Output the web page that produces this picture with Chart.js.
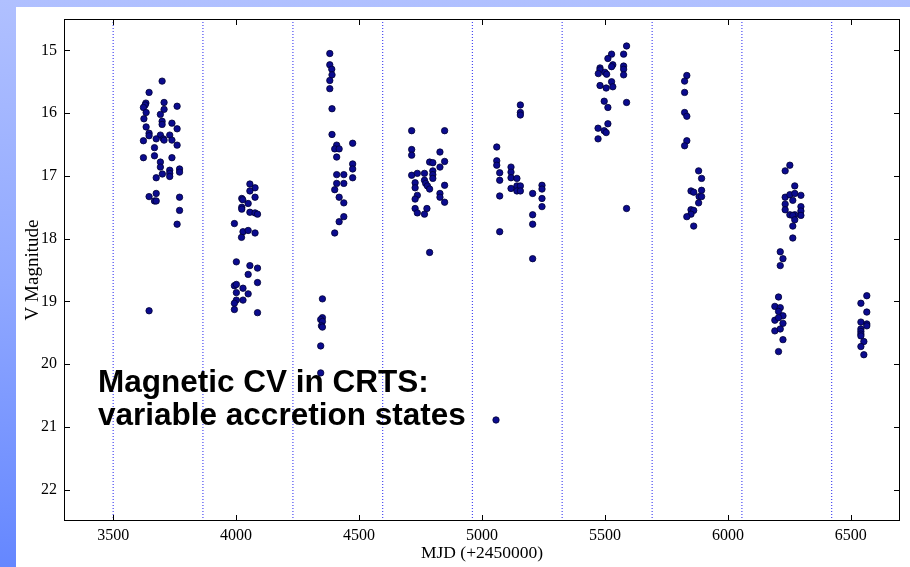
<!DOCTYPE html>
<html><head><meta charset="utf-8">
<script src="https://cdn.jsdelivr.net/npm/chart.js@4"></script>
<style>
html,body{margin:0;padding:0;width:910px;height:567px;overflow:hidden;}
body{background:linear-gradient(to bottom,#b0c0ff 0%,#90a8ff 50%,#6587ff 100%);position:relative;}
#box{position:absolute;left:16px;top:7px;width:894px;height:560px;background:#fff;}
canvas{display:block;}
</style></head><body>
<div id="box"><canvas id="c" width="894" height="560"></canvas></div>
<script>
// ---- data (MJD - 2450000, V magnitude) ----
const season1 = [[3699,15.49],[3646,15.67],[3707,15.83],[3633,15.84],[3630,15.87],[3623,15.91],[3760,15.89],[3707,15.94],[3634,15.99],[3692,16.02],[3625,16.09],[3699,16.13],[3699,16.18],[3739,16.16],[3634,16.22],[3760,16.25],[3646,16.32],[3646,16.36],[3692,16.35],[3730,16.35],[3704,16.41],[3707,16.43],[3675,16.41],[3623,16.44],[3739,16.43],[3760,16.51],[3668,16.55],[3668,16.68],[3623,16.71],[3739,16.71],[3692,16.78],[3692,16.86],[3730,16.91],[3730,16.96],[3730,17.01],[3770,16.89],[3770,16.94],[3700,16.97],[3675,17.03],[3646,17.33],[3675,17.28],[3668,17.40],[3675,17.40],[3770,17.34],[3770,17.55],[3760,17.77],[3646,19.15]];
const season2 = [[4056,17.13],[4077,17.19],[4056,17.24],[4023,17.36],[4027,17.38],[4077,17.34],[4049,17.44],[4023,17.50],[4023,17.53],[4056,17.58],[4077,17.59],[4087,17.61],[3993,17.76],[4028,17.89],[4049,17.87],[4077,17.91],[4022,17.98],[4001,18.37],[4056,18.43],[4087,18.47],[4049,18.57],[4087,18.70],[3993,18.75],[4001,18.73],[4028,18.79],[4001,18.86],[4049,18.88],[4001,18.98],[3993,19.03],[4028,18.98],[3993,19.13],[4087,19.18]];
const season3 = [[4381,15.05],[4381,15.23],[4389,15.30],[4390,15.39],[4381,15.48],[4381,15.61],[4390,15.93],[4390,16.34],[4409,16.51],[4401,16.57],[4419,16.57],[4474,16.48],[4409,16.70],[4474,16.81],[4474,16.89],[4409,16.98],[4438,16.98],[4474,17.03],[4409,17.12],[4438,17.12],[4401,17.22],[4419,17.34],[4438,17.43],[4438,17.65],[4419,17.73],[4401,17.91],[4351,18.96],[4351,19.26],[4344,19.29],[4351,19.32],[4347,19.39],[4351,19.41],[4344,19.71],[4344,20.14]];
const season4 = [[4714,16.28],[4848,16.28],[4714,16.58],[4714,16.67],[4829,16.62],[4714,16.99],[4737,16.96],[4766,16.96],[4787,16.78],[4800,16.79],[4800,16.92],[4800,16.98],[4800,17.04],[4829,16.86],[4848,16.77],[4728,17.11],[4728,17.19],[4766,17.07],[4771,17.12],[4778,17.16],[4787,17.21],[4737,17.31],[4728,17.37],[4848,17.15],[4829,17.28],[4829,17.34],[4848,17.42],[4728,17.52],[4737,17.59],[4776,17.52],[4766,17.61],[4787,18.22]];
const season5 = [[5156,15.87],[5156,15.99],[5156,16.03],[5060,16.54],[5060,16.76],[5060,16.83],[5072,16.95],[5072,17.07],[5118,16.86],[5118,16.94],[5118,17.03],[5142,17.04],[5118,17.20],[5142,17.16],[5156,17.16],[5142,17.24],[5156,17.24],[5072,17.32],[5206,17.28],[5244,17.15],[5244,17.21],[5244,17.36],[5244,17.49],[5206,17.62],[5206,17.77],[5072,17.89],[5206,18.32],[5057,20.89]];
const season6 = [[5588,14.93],[5527,15.06],[5576,15.06],[5512,15.13],[5532,15.23],[5527,15.26],[5480,15.28],[5480,15.31],[5576,15.25],[5576,15.30],[5473,15.37],[5500,15.35],[5507,15.38],[5576,15.39],[5527,15.50],[5480,15.56],[5505,15.60],[5532,15.58],[5497,15.81],[5588,15.83],[5512,15.91],[5512,16.17],[5472,16.24],[5497,16.28],[5505,16.31],[5472,16.41],[5588,17.52]];
const season7 = [[5833,15.40],[5824,15.49],[5824,15.67],[5824,15.99],[5833,16.05],[5833,16.44],[5824,16.52],[5881,16.92],[5893,17.04],[5850,17.24],[5861,17.26],[5893,17.23],[5883,17.33],[5893,17.33],[5881,17.43],[5850,17.54],[5861,17.55],[5850,17.61],[5833,17.65],[5861,17.80]];
const season8 = [[6252,16.83],[6233,16.92],[6272,17.16],[6233,17.34],[6252,17.30],[6272,17.28],[6297,17.31],[6264,17.39],[6233,17.45],[6233,17.54],[6297,17.49],[6297,17.56],[6297,17.63],[6252,17.62],[6272,17.62],[6264,17.63],[6272,17.70],[6264,17.80],[6264,17.99],[6213,18.21],[6224,18.32],[6213,18.43],[6206,18.93],[6191,19.08],[6213,19.10],[6206,19.16],[6224,19.23],[6191,19.30],[6206,19.26],[6224,19.35],[6191,19.47],[6213,19.44],[6224,19.61],[6206,19.80]];
const season9 = [[6565,18.91],[6541,19.03],[6565,19.17],[6541,19.33],[6565,19.36],[6565,19.39],[6541,19.44],[6541,19.48],[6541,19.52],[6541,19.55],[6553,19.64],[6541,19.72],[6553,19.85]];

const seasonLines = [3500,3865,4231,4596,4961,5326,5692,6057,6422];
const xTicks = [3500,4000,4500,5000,5500,6000,6500];
const yTicks = [15,16,17,18,19,20,21,22];
const xRange = [3300,6700];
const yRange = [14.5,22.5];
const xTitle = 'MJD (+2450000)';
const yTitle = 'V Magnitude';
const noteLines = ['Magnetic CV in CRTS:','variable accretion states'];

// ---- chart ----
const allPoints = [season1,season2,season3,season4,season5,season6,season7,season8,season9]
  .flat().map(([x,y]) => ({x, y}));

const lineSets = seasonLines.map(v => ({
  data: [{x:v, y:yRange[0]}, {x:v, y:yRange[1]}],
  showLine: true, borderColor: '#4848f2', borderWidth: 1.2,
  borderDash: [1,2], pointRadius: 0, order: 2
}));

const serif = '"Liberation Serif", "Times New Roman", serif';

const framePlugin = {
  id: 'frame',
  afterDatasetsDraw(chart) {
    const {ctx, chartArea: a, scales: {x, y}} = chart;
    ctx.save();
    ctx.strokeStyle = '#000';
    ctx.lineWidth = 1;
    ctx.strokeRect(Math.round(a.left)+0.5, Math.round(a.top)+0.5, Math.round(a.width)-1, Math.round(a.height)-1);
    const tl = 6;
    ctx.beginPath();
    x.ticks.forEach(t => {
      const px = Math.round(x.getPixelForValue(t.value)) + 0.5;
      ctx.moveTo(px, a.bottom); ctx.lineTo(px, a.bottom - tl);
      ctx.moveTo(px, a.top); ctx.lineTo(px, a.top + tl);
    });
    y.ticks.forEach(t => {
      const py = Math.round(y.getPixelForValue(t.value)) + 0.5;
      ctx.moveTo(a.left, py); ctx.lineTo(a.left + tl, py);
      ctx.moveTo(a.right, py); ctx.lineTo(a.right - tl, py);
    });
    ctx.stroke();
    // annotation text
    ctx.fillStyle = '#000';
    ctx.font = 'bold 31.5px "Liberation Sans", Arial, sans-serif';
    ctx.textAlign = 'left';
    ctx.textBaseline = 'alphabetic';
    ctx.fillText(noteLines[0], 82, 385);
    ctx.fillText(noteLines[1], 82, 418);
    ctx.restore();
  }
};

new Chart(document.getElementById('c'), {
  type: 'scatter',
  data: {
    datasets: [
      { data: allPoints, pointRadius: 3.2, pointBackgroundColor: '#0b0b8e',
        pointBorderColor: '#000033', pointBorderWidth: 0.8, order: 1 },
      ...lineSets
    ]
  },
  options: {
    responsive: false, animation: false, events: [],
    layout: { padding: { left: 0, top: 12, right: 10, bottom: 0 } },
    plugins: { legend: { display: false }, tooltip: { enabled: false } },
    scales: {
      x: {
        type: 'linear', min: xRange[0], max: xRange[1],
        afterBuildTicks: s => { s.ticks = xTicks.map(v => ({value: v})); },
        afterFit: s => { s.height = 46; s.paddingLeft = 0; s.paddingRight = 0; },
        grid: { display: false, drawTicks: false },
        border: { display: false },
        ticks: { color: '#000', padding: 5, font: { family: serif, size: 16 },
                 callback: v => String(v) },
        title: { display: true, text: xTitle, color: '#000', padding: { top: 0, bottom: 3 },
                 font: { family: serif, size: 17.5 } }
      },
      y: {
        type: 'linear', reverse: true, min: yRange[0], max: yRange[1],
        afterBuildTicks: s => { s.ticks = yTicks.map(v => ({value: v})); },
        afterFit: s => { s.width = 48; s.paddingTop = 0; s.paddingBottom = 0; },
        grid: { display: false, drawTicks: false },
        border: { display: false },
        ticks: { color: '#000', padding: 7, font: { family: serif, size: 16 },
                 callback: v => String(v) },
        title: { display: true, text: yTitle, color: '#000', padding: { top: 6, bottom: 0 },
                 font: { family: serif, size: 19 } }
      }
    }
  },
  plugins: [framePlugin]
});
</script></body></html>
